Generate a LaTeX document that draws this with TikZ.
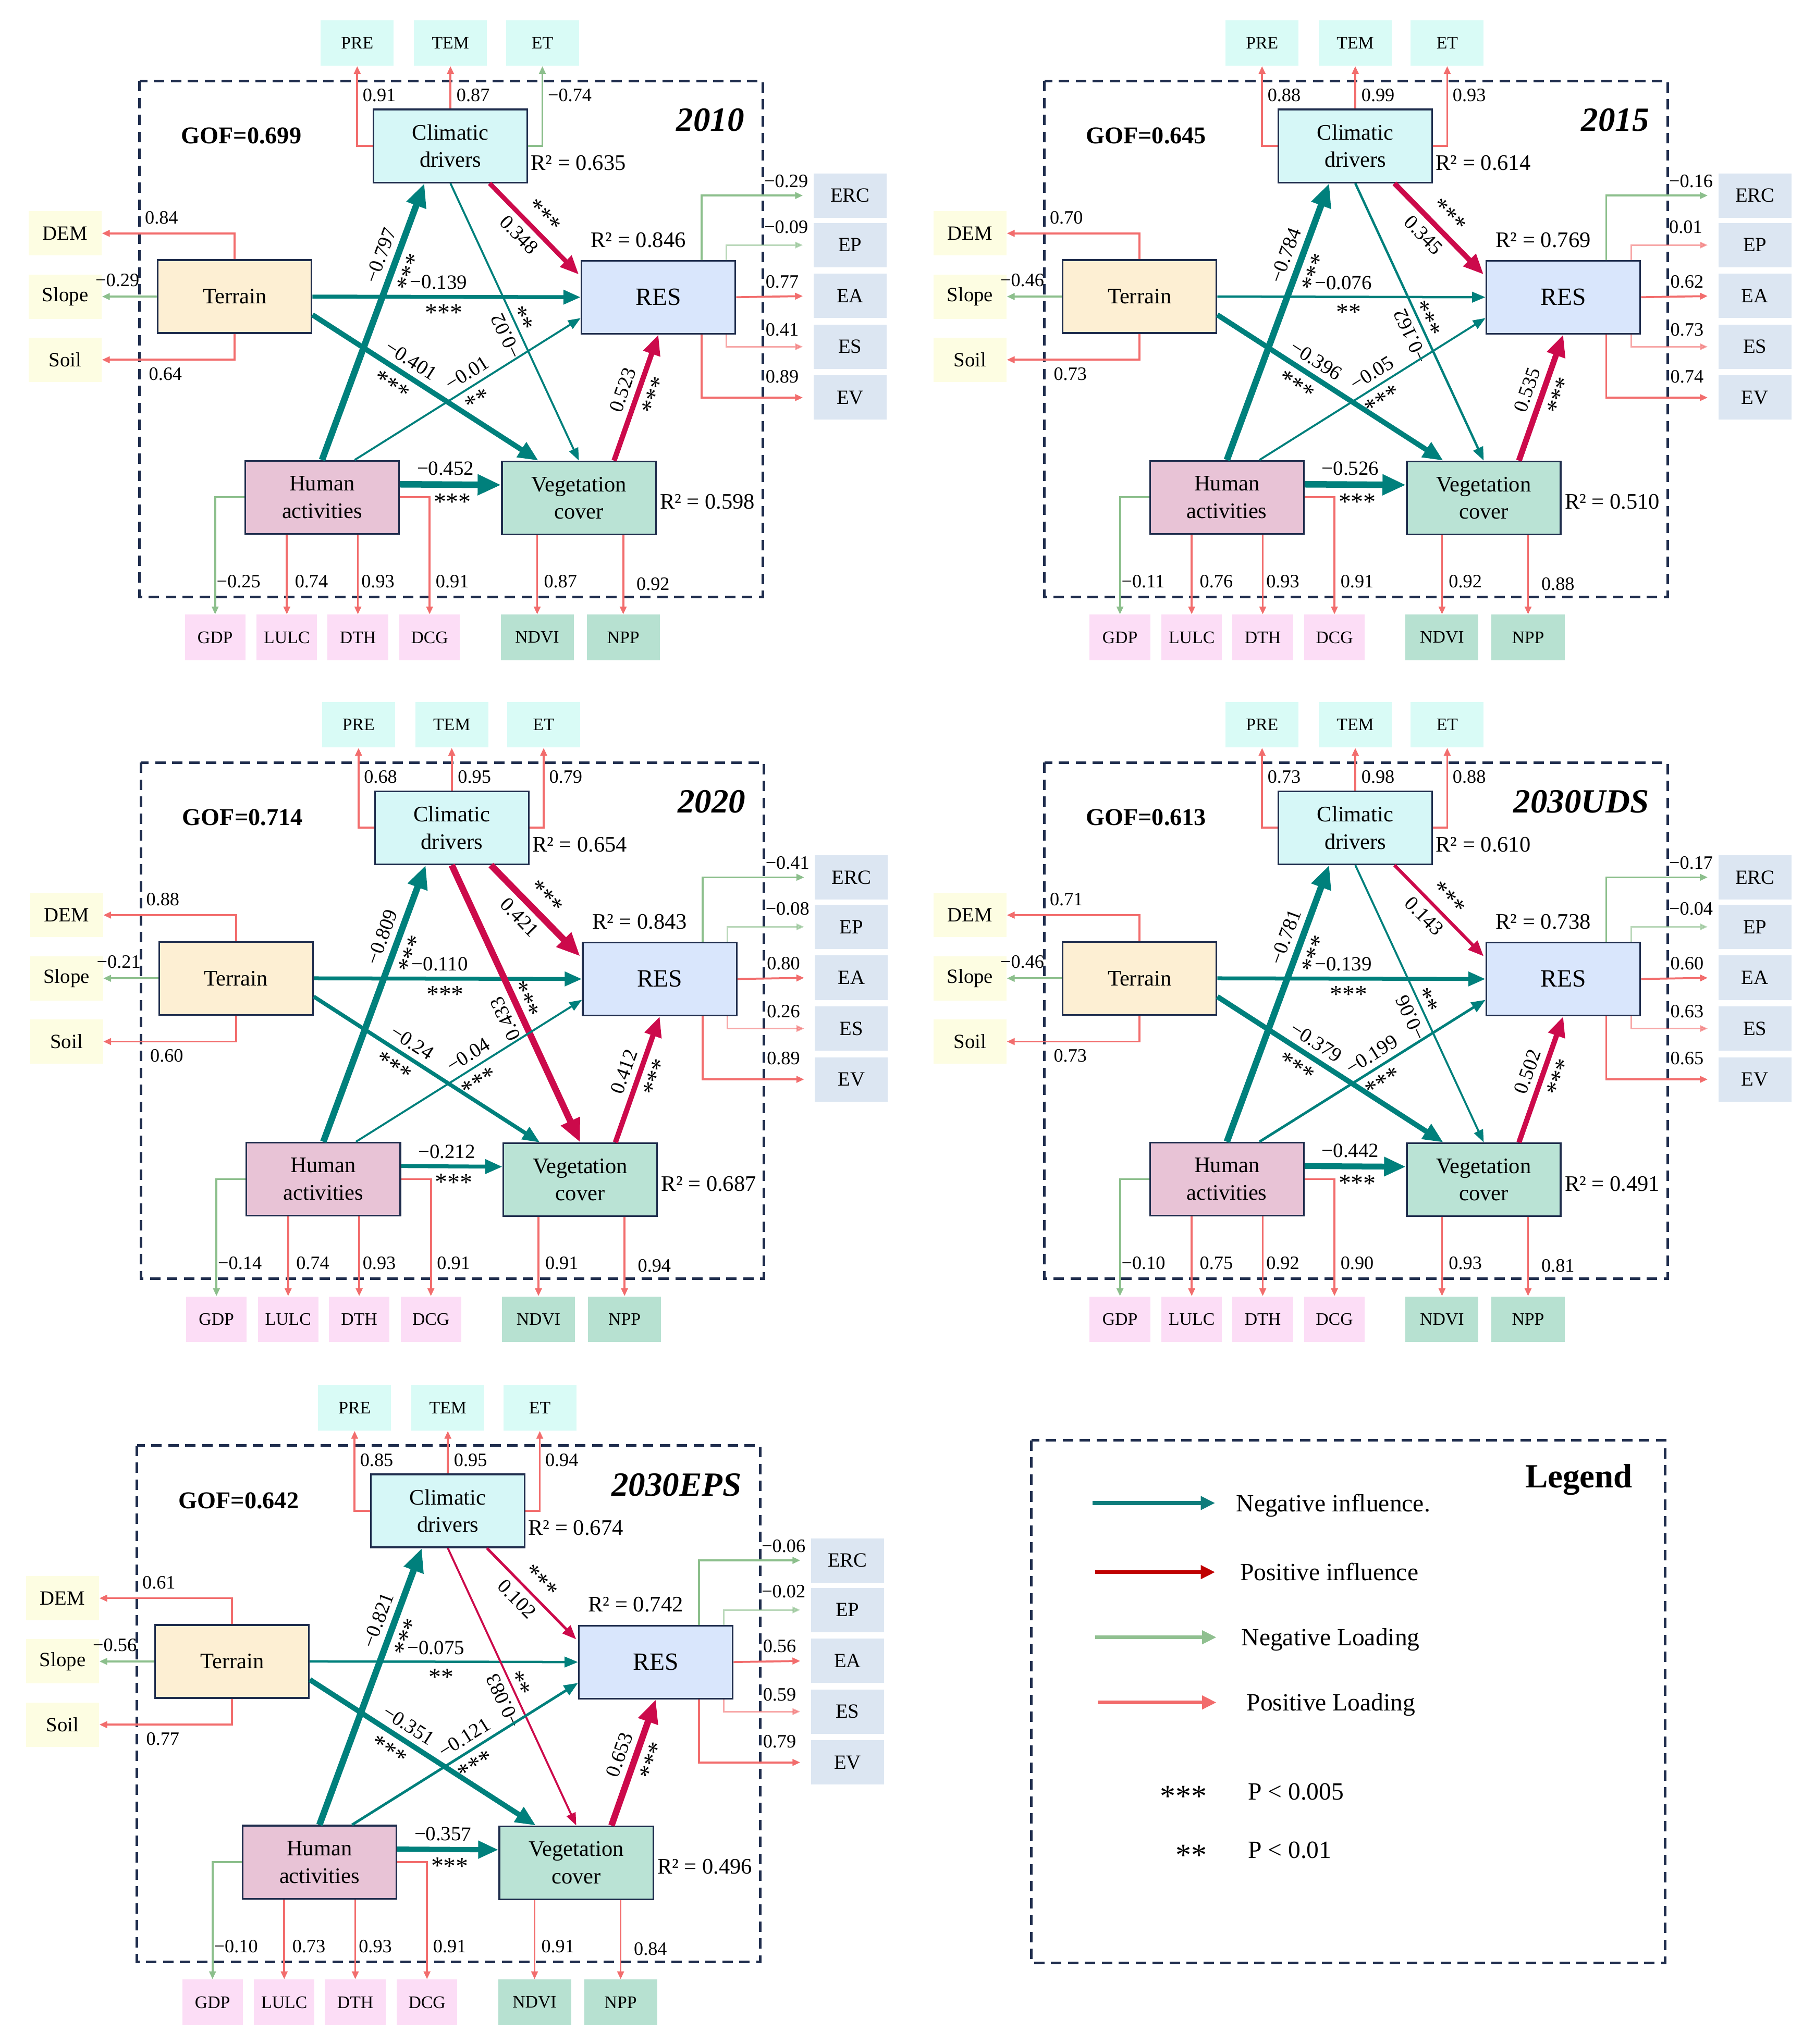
\documentclass[tikz,border=0pt]{standalone}
\usepackage{fontspec}
\setmainfont{Liberation Serif}
\usetikzlibrary{arrows.meta}
\definecolor{navy}{HTML}{1F2D4D}
\definecolor{tealA}{HTML}{00807C}
\definecolor{crim}{HTML}{CC0A4B}
\definecolor{lgreen}{HTML}{8CBF8C}
\definecolor{lred}{HTML}{F26D6D}
\definecolor{fclim}{HTML}{D6F7F7}
\definecolor{fclimi}{HTML}{D9FBF6}
\definecolor{fterr}{HTML}{FDEFD3}
\definecolor{fterri}{HTML}{FDFDE2}
\definecolor{fres}{HTML}{D9E6FC}
\definecolor{fresi}{HTML}{DCE6F2}
\definecolor{fhum}{HTML}{E8C3D6}
\definecolor{fhumi}{HTML}{FCDDF6}
\definecolor{fveg}{HTML}{BAE3D5}
\definecolor{fvegi}{HTML}{B7E1D1}
\definecolor{legteal}{HTML}{0E7C7B}
\definecolor{legred}{HTML}{C00000}
\definecolor{leggreen}{HTML}{90C090}
\definecolor{legsalmon}{HTML}{F26B6B}
\newcommand\fsz[2]{\fontsize{#1}{#2}\selectfont}
\tikzset{
  lv/.style={draw=navy, line width=1.3pt, minimum width=118pt, minimum height=56pt, inner sep=0pt, align=center, font=\fsz{17}{21}},
  ind/.style={minimum height=35pt, inner sep=0pt, font=\fsz{13.5}{16}},
  indw/.style={ind, minimum width=56pt},
  indn/.style={ind, minimum width=46.5pt},
  sideind/.style={minimum height=34pt, minimum width=56pt, inner sep=0pt, font=\fsz{15.5}{18}},
  lab/.style={inner sep=0pt, font=\fsz{14.5}{16}},
  rsq/.style={inner sep=0pt, anchor=west, font=\fsz{17}{20}},
  load/.style={line width=1.5pt, -{Triangle[length=6pt,width=5pt]}},
  lpos/.style={load, draw=lred},
  lneg/.style={load, draw=lgreen},
  faint/.style={opacity=0.6, line width=1.2pt},
  eff/.style={line width=#1, -{Triangle[length=6pt 2.4, width=4pt 2.2]}},
  effr/.style={line width=#1, {Triangle[length=6pt 2.4, width=4pt 2.2]}-},
  coef/.style={sloped, inner sep=4.5pt, font=\fsz{15.5}{17}},
  star/.style={sloped, inner sep=4.5pt, font=\fsz{19}{20}},
  dashbox/.style={draw=navy, line width=2pt, dash pattern=on 8pt off 5pt},
  legar/.style={line width=3pt, -{Triangle[length=11pt,width=10pt]}},
  legtxt/.style={inner sep=0pt, anchor=base west, font=\fsz{19}{22}},
}
\newcommand\panelbase[5]{%
  \draw[dashbox] (107,62) rectangle (585,458);
  \node[lv, fill=fclim] (clim) at (345.5,112) {Climatic\\drivers};
  \node[lv, fill=fterr] (terr) at (180,227.5) {Terrain};
  \node[lv, fill=fres, font=\fsz{19}{22}] (res) at (505,228) {RES};
  \node[lv, fill=fhum] (hum) at (247,381.5) {Human\\activities};
  \node[lv, fill=fveg] (veg) at (444,382) {Vegetation\\cover};
  \node[indw, fill=fclimi] (pre) at (274,33) {PRE};
  \node[indw, fill=fclimi] (tem) at (345.5,33) {TEM};
  \node[indw, fill=fclimi] (et) at (416,33) {ET};
  \node[sideind, fill=fterri] (dem) at (50,179) {DEM};
  \node[sideind, fill=fterri] (slope) at (50,227.5) {Slope};
  \node[sideind, fill=fterri] (soil) at (50,276) {Soil};
  \node[sideind, fill=fresi] (erc) at (652,150) {ERC};
  \node[sideind, fill=fresi] (ep) at (652,188) {EP};
  \node[sideind, fill=fresi] (ea) at (652,227) {EA};
  \node[sideind, fill=fresi] (es) at (652,266) {ES};
  \node[sideind, fill=fresi] (ev) at (652,305) {EV};
  \node[indn, fill=fhumi] (gdp) at (165,489) {GDP};
  \node[indn, fill=fhumi] (lulc) at (220,489) {LULC};
  \node[indn, fill=fhumi] (dth) at (274.5,489) {DTH};
  \node[indn, fill=fhumi] (dcg) at (329.5,489) {DCG};
  \node[indw, fill=fvegi] (ndvi) at (412,489) {NDVI};
  \node[indw, fill=fvegi] (npp) at (478,489) {NPP};
  \node[inner sep=0pt, font=\bfseries\fsz{18.5}{22}] (gof) at (185,104) {GOF=#1};
  \node[inner sep=0pt, anchor=east, font=\bfseries\itshape\fsz{26}{30}] (yr) at (571,92) {#2};
  \node[rsq] (r2c) at (407,125) {R² = #3};
  \node[rsq] (r2r) at (453,184) {R² = #4};
  \node[rsq] (r2v) at (506,385) {R² = #5};
}
\newcommand\climload[6]{%
  \draw[#1] (clim.west) -| (pre.south);
  \draw[#3] (clim.north) -- (tem.south);
  \draw[#5] (clim.east) -| (et.south);
  \node[lab, anchor=west] (prel) at (278,73) {#2};
  \node[lab, anchor=west] (teml) at (350,73) {#4};
  \node[lab, anchor=west] (etl) at (420,73) {#6};
}
\newcommand\terrload[3]{%
  \draw[lpos] (terr.north) |- (dem.east);
  \draw[lneg] (terr.west) -- (slope.east);
  \draw[lpos] (terr.south) |- (soil.east);
  \node[lab, anchor=west] (deml) at (111,167) {#1};
  \node[lab, anchor=east] (slopel) at (107,215) {#2};
  \node[lab, anchor=west] (soill) at (114,287) {#3};
}
\newcommand\resload[6]{%
  \draw[lneg, shorten >=8pt] ([xshift=33pt]res.north) |- (erc.west);
  \draw[#2, faint, shorten >=8pt] ([xshift=52pt]res.north) |- (ep.west);
  \draw[lpos, shorten >=8pt] (res.east) -- (ea.west);
  \draw[lpos, faint, shorten >=8pt] ([xshift=52pt]res.south) |- (es.west);
  \draw[lpos, shorten >=8pt] ([xshift=33pt]res.south) |- (ev.west);
  \node[lab, anchor=west] (ercl) at (586,139) {#1};
  \node[lab, anchor=west] (epl) at (586,174) {#3};
  \node[lab, anchor=west] (eal) at (587,216) {#4};
  \node[lab, anchor=west] (esl) at (587,253) {#5};
  \node[lab, anchor=west] (evl) at (587,289) {#6};
}
\newcommand\humload[6]{%
  \draw[lneg] (hum.west) -| (gdp.north);
  \draw[lpos] (lulc.north |- hum.south) -- (lulc.north);
  \draw[lpos] (dth.north |- hum.south) -- (dth.north);
  \draw[lpos] (hum.east) -| (dcg.north);
  \draw[lpos] (ndvi.north |- veg.south) -- (ndvi.north);
  \draw[lpos] (npp.north |- veg.south) -- (npp.north);
  \node[lab, anchor=west] (gdpl) at (166,446) {#1};
  \node[lab, anchor=west] (lulcl) at (226,446) {#2};
  \node[lab, anchor=west] (dthl) at (277,446) {#3};
  \node[lab, anchor=west] (dcgl) at (334,446) {#4};
  \node[lab, anchor=west] (ndvil) at (417,446) {#5};
  \node[lab, anchor=west] (nppl) at (488,448) {#6};
}
\newcommand\HC[3]{\draw[eff=#1, draw=tealA] (hum.north) -- node[coef, pos=0.72, above]{#2} node[star, pos=0.70, below]{#3} ([xshift=-20pt]clim.south);}
\newcommand\TR[3]{\draw[eff=#1, draw=tealA] (terr.east) -- node[coef, pos=0.47, above]{#2} node[star, pos=0.49, below]{#3} (res.west);}
\newcommand\CR[4]{\draw[eff=#1, draw=#2, shorten >=2pt] ([xshift=30pt]clim.south) -- node[coef, pos=0.44, below]{#3} node[star, pos=0.47, above]{#4} ([yshift=16pt]res.west);}
\newcommand\CV[4]{\draw[effr=#1, draw=#2] (veg.north) -- node[coef, allow upside down, pos=0.47, above]{#3} node[star, allow upside down, pos=0.50, below]{#4} (clim.south);}
\newcommand\TV[3]{\draw[eff=#1, draw=tealA] ([yshift=-14pt]terr.east) -- node[coef, pos=0.40, above]{#2} node[star, pos=0.39, below]{#3} ([xshift=-31pt]veg.north);}
\newcommand\HR[3]{\draw[eff=#1, draw=tealA] ([xshift=25pt]hum.north) -- node[coef, pos=0.53, above]{#2} node[star, pos=0.51, below]{#3} ([yshift=-16pt]res.west);}
\newcommand\HV[3]{\draw[eff=#1, draw=tealA] ([yshift=10pt]hum.east) -- node[coef, pos=0.45, above]{#2} node[star, pos=0.52, below]{#3} ([yshift=10pt]veg.west);}
\newcommand\VR[3]{\draw[eff=#1, draw=crim] ([xshift=27pt]veg.north) -- node[coef, pos=0.52, above]{#2} node[star, pos=0.56, below]{#3} (res.south);}
\begin{document}
\begin{tikzpicture}[x=1pt, y=-1pt]
\useasboundingbox (0,0) rectangle (1392,1568);
\fill[white] (0,0) rectangle (1392,1568);
% ---------- 2010
\begin{scope}[name prefix=a-]
\panelbase{0.699}{2010}{0.635}{0.846}{0.598}
\climload{lpos}{0.91}{lpos}{0.87}{lneg}{−0.74}
\terrload{0.84}{−0.29}{0.64}
\resload{−0.29}{lneg}{−0.09}{0.77}{0.41}{0.89}
\humload{−0.25}{0.74}{0.93}{0.91}{0.87}{0.92}
\HC{5pt}{−0.797}{***}
\TR{3pt}{−0.139}{***}
\CR{3.5pt}{crim}{0.348}{***}
\CV{1.5pt}{tealA}{−0.02}{**}
\TV{4pt}{−0.401}{***}
\HR{1.5pt}{−0.01}{**}
\HV{5pt}{−0.452}{***}
\VR{4pt}{0.523}{***}
\end{scope}
% ---------- 2015
\begin{scope}[name prefix=b-, shift={(694,0)}]
\panelbase{0.645}{2015}{0.614}{0.769}{0.510}
\climload{lpos}{0.88}{lpos}{0.99}{lpos}{0.93}
\terrload{0.70}{−0.46}{0.73}
\resload{−0.16}{lpos}{0.01}{0.62}{0.73}{0.74}
\humload{−0.11}{0.76}{0.93}{0.91}{0.92}{0.88}
\HC{5pt}{−0.784}{***}
\TR{1.8pt}{−0.076}{**}
\CR{4pt}{crim}{0.345}{***}
\CV{1.8pt}{tealA}{−0.162}{***}
\TV{4pt}{−0.396}{***}
\HR{1.5pt}{−0.05}{***}
\HV{5pt}{−0.526}{***}
\VR{4.5pt}{0.535}{***}
\end{scope}
% ---------- 2020
\begin{scope}[name prefix=c-, shift={(1,523)}]
\panelbase{0.714}{2020}{0.654}{0.843}{0.687}
\climload{lpos}{0.68}{lpos}{0.95}{lpos}{0.79}
\terrload{0.88}{−0.21}{0.60}
\resload{−0.41}{lneg}{−0.08}{0.80}{0.26}{0.89}
\humload{−0.14}{0.74}{0.93}{0.91}{0.91}{0.94}
\HC{5pt}{−0.809}{***}
\TR{3pt}{−0.110}{***}
\CR{5pt}{crim}{0.421}{***}
\CV{5pt}{crim}{0.433}{***}
\TV{3pt}{−0.24}{***}
\HR{1.5pt}{−0.04}{***}
\HV{3pt}{−0.212}{***}
\VR{4pt}{0.412}{***}
\end{scope}
% ---------- 2030UDS
\begin{scope}[name prefix=d-, shift={(694,523)}]
\panelbase{0.613}{2030UDS}{0.610}{0.738}{0.491}
\climload{lpos}{0.73}{lpos}{0.98}{lpos}{0.88}
\terrload{0.71}{−0.46}{0.73}
\resload{−0.17}{lneg}{−0.04}{0.60}{0.63}{0.65}
\humload{−0.10}{0.75}{0.92}{0.90}{0.93}{0.81}
\HC{5pt}{−0.781}{***}
\TR{3pt}{−0.139}{***}
\CR{2.5pt}{crim}{0.143}{***}
\CV{1.5pt}{tealA}{−0.06}{**}
\TV{4pt}{−0.379}{***}
\HR{2pt}{−0.199}{***}
\HV{4.5pt}{−0.442}{***}
\VR{4pt}{0.502}{***}
\end{scope}
% ---------- 2030EPS
\begin{scope}[name prefix=e-, shift={(-2,1047)}]
\panelbase{0.642}{2030EPS}{0.674}{0.742}{0.496}
\climload{lpos}{0.85}{lpos}{0.95}{lpos}{0.94}
\terrload{0.61}{−0.56}{0.77}
\resload{−0.06}{lneg}{−0.02}{0.56}{0.59}{0.79}
\humload{−0.10}{0.73}{0.93}{0.91}{0.91}{0.84}
\HC{5pt}{−0.821}{***}
\TR{1.8pt}{−0.075}{**}
\CR{2pt}{crim}{0.102}{***}
\CV{1.5pt}{crim}{−0.083}{**}
\TV{4pt}{−0.351}{***}
\HR{2pt}{−0.121}{***}
\HV{4pt}{−0.357}{***}
\VR{5pt}{0.653}{***}
\end{scope}
% ---------- Legend
\draw[dashbox] (791,1105) rectangle (1277,1506);
\node[inner sep=0pt, font=\bfseries\fsz{26}{30}] (legt) at (1211,1135) {Legend};
\coordinate (lg1a) at (838,1153); \coordinate (lg1b) at (932,1153);
\coordinate (lg2a) at (840,1206); \coordinate (lg2b) at (932,1206);
\coordinate (lg3a) at (840,1256); \coordinate (lg3b) at (933,1256);
\coordinate (lg4a) at (842,1306); \coordinate (lg4b) at (933,1306);
\draw[legar, draw=legteal] (lg1a) -- (lg1b);
\draw[legar, draw=legred] (lg2a) -- (lg2b);
\draw[legar, draw=leggreen] (lg3a) -- (lg3b);
\draw[legar, draw=legsalmon] (lg4a) -- (lg4b);
\node[legtxt] (lg1t) at (948,1159.5) {Negative influence.};
\node[legtxt] (lg2t) at (951,1212.5) {Positive influence};
\node[legtxt] (lg3t) at (952,1262.5) {Negative Loading};
\node[legtxt] (lg4t) at (956,1312.5) {Positive Loading};
\node[inner sep=0pt, anchor=base east, font=\fsz{24}{26}] (ls3) at (926,1386) {***};
\node[legtxt] (lp3) at (957,1380.5) {P < 0.005};
\node[inner sep=0pt, anchor=base east, font=\fsz{24}{26}] (ls2) at (926,1431) {**};
\node[legtxt] (lp2) at (957,1425.5) {P < 0.01};
\end{tikzpicture}
\end{document}
